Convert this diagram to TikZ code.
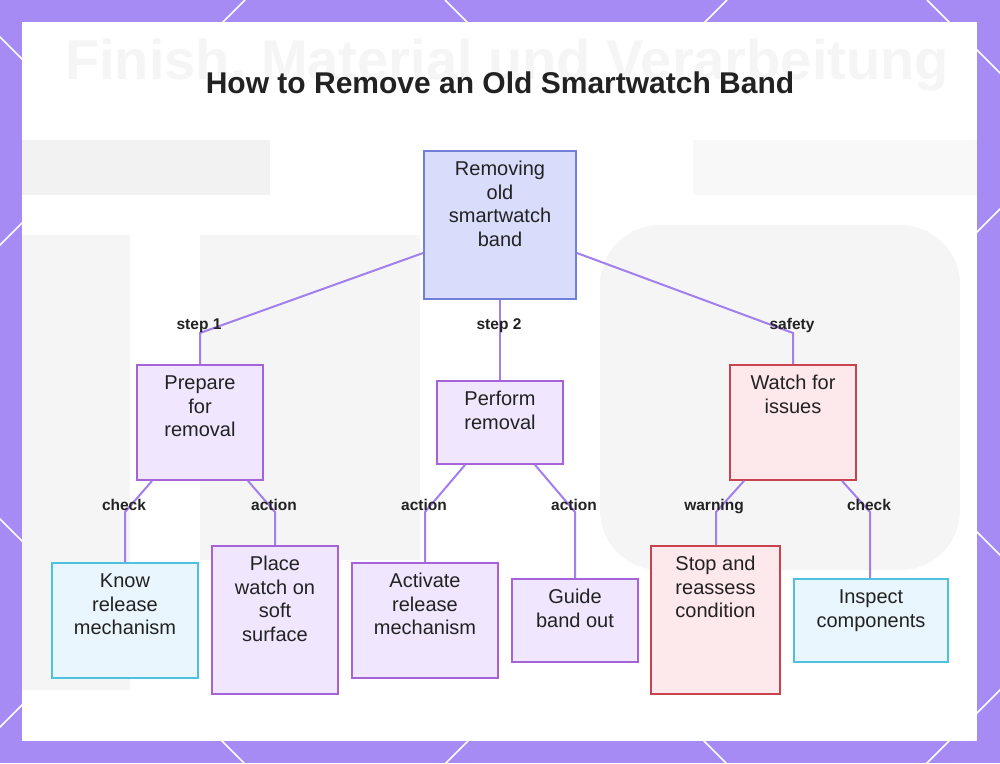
\documentclass[tikz,border=0pt]{standalone}
\usepackage{fontspec}
\setmainfont{Liberation Sans}
\definecolor{bandpurple}{HTML}{A78BF5}
\definecolor{ghost}{HTML}{F5F5F5}
\definecolor{ghostb}{HTML}{F2F2F2}
\definecolor{rootfill}{HTML}{D9DDFB}
\definecolor{rootline}{HTML}{7080D8}
\definecolor{purfill}{HTML}{F0E6FD}
\definecolor{purline}{HTML}{A662D8}
\definecolor{pinkfill}{HTML}{FDE8EC}
\definecolor{pinkline}{HTML}{C8424F}
\definecolor{cyanfill}{HTML}{EAF6FD}
\definecolor{cyanline}{HTML}{4EC1DE}
\definecolor{conn}{HTML}{A27FEE}
\definecolor{ink}{HTML}{222222}
\begin{document}
\begin{tikzpicture}[x=1pt,y=-1pt,
  box/.style={draw, line width=1.8pt, rectangle, inner sep=0pt},
  rootbox/.style={box, fill=rootfill, draw=rootline},
  purbox/.style={box, fill=purfill, draw=purline},
  pinkbox/.style={box, fill=pinkfill, draw=pinkline},
  cyanbox/.style={box, fill=cyanfill, draw=cyanline},
  txt/.style={anchor=base, align=center, inner sep=0pt, text=ink, font=\fontsize{20}{23.5}\selectfont},
  lbl/.style={anchor=base, inner sep=0pt, text=ink, font=\fontsize{15.5}{18}\selectfont\bfseries},
  link/.style={draw=conn, line width=2pt}
]
\useasboundingbox (0,0) rectangle (1000,763);
\fill[bandpurple] (0,0) rectangle (1000,763);
\begin{scope}
  \clip (0,0) rectangle (1000,763);
  \foreach \c in {245,727,1209,1690} \draw[white, line width=1.5pt] (\c,0) -- ++(-800,800);
  \foreach \c in {-519,-37,445,927} \draw[white, line width=1.5pt] (\c,0) -- ++(800,800);
\end{scope}
\fill[white] (22,22) rectangle (977,741);
% faint blurred background
\fill[ghostb] (22,140) rectangle (270,195);
\fill[ghost!70!white] (693,140) rectangle (977,195);
\fill[ghost] (22,235) rectangle (130,690);
\fill[ghost] (200,235) rectangle (420,560);
\fill[ghost, rounded corners=60pt] (600,225) rectangle (960,570);
\node[anchor=base, inner sep=0pt, text=ghost, font=\fontsize{56}{60}\selectfont\bfseries] (ghosttitle) at (507,79) {Finish, Material und Verarbeitung};
% title
\node[anchor=base, inner sep=0pt, text=ink, font=\fontsize{30}{34}\selectfont\bfseries] (title) at (500,93) {How to Remove an Old Smartwatch Band};
% boxes
\node[rootbox, minimum width=152pt, minimum height=148pt] (root) at (500,225) {};
\node[purbox, minimum width=126pt, minimum height=115pt] (prep) at (200,422.5) {};
\node[purbox, minimum width=126pt, minimum height=83pt] (perf) at (500,422.5) {};
\node[pinkbox, minimum width=126pt, minimum height=115pt] (watch) at (793,422.5) {};
\node[cyanbox, minimum width=146pt, minimum height=115pt] (know) at (125,620.5) {};
\node[purbox, minimum width=126pt, minimum height=148pt] (place) at (275,620) {};
\node[purbox, minimum width=146pt, minimum height=115pt] (activ) at (425,620.5) {};
\node[purbox, minimum width=126pt, minimum height=83pt] (guide) at (575,620.5) {};
\node[pinkbox, minimum width=129pt, minimum height=148pt] (stop) at (715.5,620) {};
\node[cyanbox, minimum width=154pt, minimum height=83pt] (insp) at (871,620.5) {};
% texts (anchor base = last line baseline)
\node[txt] (troot) at ([yshift=-96pt]root.north) {Removing\\old\\smartwatch\\band};
\node[txt] (tprep) at ([yshift=-72.5pt]prep.north) {Prepare\\for\\removal};
\node[txt] (tperf) at ([yshift=-49pt]perf.north) {Perform\\removal};
\node[txt] (twatch) at ([yshift=-49pt]watch.north) {Watch for\\issues};
\node[txt] (tknow) at ([yshift=-72.5pt]know.north) {Know\\release\\mechanism};
\node[txt] (tplace) at ([yshift=-96pt]place.north) {Place\\watch on\\soft\\surface};
\node[txt] (tactiv) at ([yshift=-72.5pt]activ.north) {Activate\\release\\mechanism};
\node[txt] (tguide) at ([yshift=-49pt]guide.north) {Guide\\band out};
\node[txt] (tstop) at ([yshift=-72.5pt]stop.north) {Stop and\\reassess\\condition};
\node[txt] (tinsp) at ([yshift=-49pt]insp.north) {Inspect\\components};
% connector bends
\coordinate (b1) at (200,333);
\coordinate (b3) at (793,333);
\coordinate (c1) at (125,512);
\coordinate (c2) at (275,512);
\coordinate (c3) at (425,512);
\coordinate (c4) at (575,512);
\coordinate (c5) at (716,512);
\coordinate (c6) at (870,512);
% connectors
\draw[link] ([yshift=-28pt]root.west) -- (b1) -- (prep.north);
\draw[link] (root.south) -- (perf.north);
\draw[link] ([yshift=-28pt]root.east) -- (b3) -- (watch.north);
\draw[link] ([xshift=-48pt]prep.south) -- (c1) -- (know.north);
\draw[link] ([xshift=48pt]prep.south) -- (c2) -- (place.north);
\draw[link] ([xshift=-35pt]perf.south) -- (c3) -- (activ.north);
\draw[link] ([xshift=35pt]perf.south) -- (c4) -- (guide.north);
\draw[link] ([xshift=-49pt]watch.south) -- (c5) -- (stop.north -| c5);
\draw[link] ([xshift=49pt]watch.south) -- (c6) -- (insp.north -| c6);
% labels
\node[lbl] (l1) at (199,329) {step 1};
\node[lbl] (l2) at (499,329) {step 2};
\node[lbl] (l3) at (792,329) {safety};
\node[lbl] (l4) at (124,510) {check};
\node[lbl] (l5) at (274,510) {action};
\node[lbl] (l6) at (424,510) {action};
\node[lbl] (l7) at (574,510) {action};
\node[lbl] (l8) at (714,510) {warning};
\node[lbl] (l9) at (869,510) {check};
\end{tikzpicture}
\end{document}
